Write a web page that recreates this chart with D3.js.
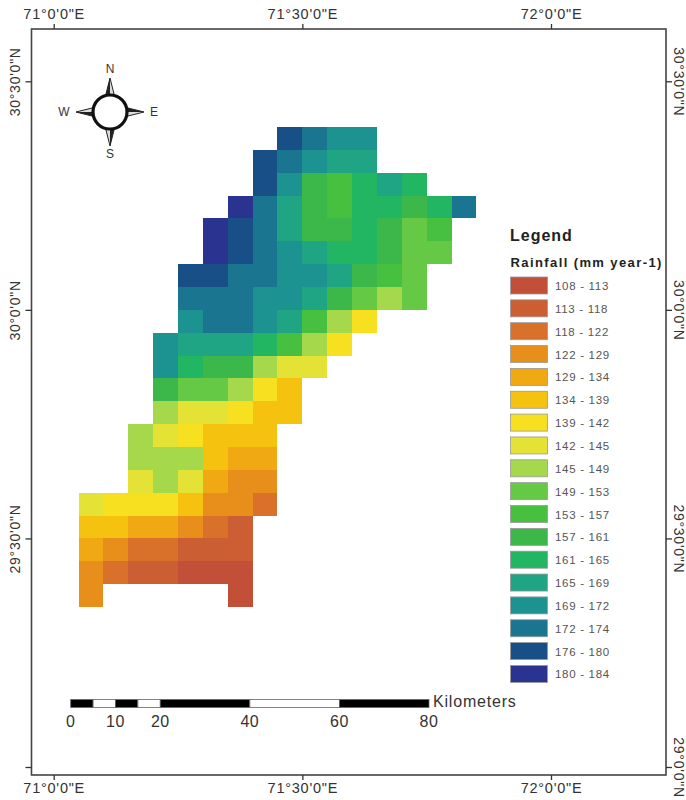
<!DOCTYPE html>
<html>
<head>
<meta charset="utf-8">
<script src="https://cdn.jsdelivr.net/npm/d3@7"></script>
<style>
  html, body { margin: 0; padding: 0; background: #fff; }
  svg { display: block; font-family: "Liberation Sans", Arial, sans-serif; }
</style>
</head>
<body>
<svg id="map" width="686" height="800"></svg>
<script>
// grid is 0.05 degree cells, rows run north to south from this corner
const gridWest = 71.05;
const gridNorth = 30.40;
const gridStep = 0.05;

const _ = null;
const rainfall = [
  [_, _, _, _, _, _, _, _, 178, 173, 170, 170, _, _, _, _],
  [_, _, _, _, _, _, _, 178, 173, 170, 167, 167, _, _, _, _],
  [_, _, _, _, _, _, _, 178, 170, 159, 155, 163, 167, 163, _, _],
  [_, _, _, _, _, _, 182, 173, 167, 159, 155, 163, 163, 159, 163, 173],
  [_, _, _, _, _, 182, 178, 173, 167, 159, 159, 163, 159, 151, 155, _],
  [_, _, _, _, _, 182, 178, 173, 170, 167, 163, 163, 159, 151, 151, _],
  [_, _, _, _, 178, 178, 173, 173, 170, 170, 167, 159, 155, 151, _, _],
  [_, _, _, _, 173, 173, 173, 170, 170, 167, 159, 151, 147, 151, _, _],
  [_, _, _, _, 170, 173, 173, 170, 167, 155, 147, 140, _, _, _, _],
  [_, _, _, 170, 167, 167, 167, 163, 155, 147, 140, _, _, _, _, _],
  [_, _, _, 170, 163, 159, 159, 147, 143, 143, _, _, _, _, _, _],
  [_, _, _, 159, 151, 151, 147, 140, 136, _, _, _, _, _, _, _],
  [_, _, _, 147, 143, 143, 140, 136, 136, _, _, _, _, _, _, _],
  [_, _, 147, 143, 140, 136, 136, 136, _, _, _, _, _, _, _, _],
  [_, _, 147, 147, 147, 136, 131, 131, _, _, _, _, _, _, _, _],
  [_, _, 143, 147, 143, 131, 125, 125, _, _, _, _, _, _, _, _],
  [143, 140, 140, 140, 136, 125, 125, 120, _, _, _, _, _, _, _, _],
  [136, 136, 131, 131, 125, 120, 115, _, _, _, _, _, _, _, _, _],
  [131, 125, 120, 120, 115, 115, 115, _, _, _, _, _, _, _, _, _],
  [125, 120, 115, 115, 110, 110, 110, _, _, _, _, _, _, _, _, _],
  [125, _, _, _, _, _, 110, _, _, _, _, _, _, _, _, _]
];

const classBreaks = [113, 118, 122, 129, 134, 139, 142, 145, 149, 153, 157, 161, 165, 169, 172, 175, 180];
const classLabels = ["108 - 113", "113 - 118", "118 - 122", "122 - 129", "129 - 134", "134 - 139",
  "139 - 142", "142 - 145", "145 - 149", "149 - 153", "153 - 157", "157 - 161",
  "161 - 165", "165 - 169", "169 - 172", "172 - 174", "176 - 180", "180 - 184"];
const classColors = ["#c24f38", "#cb5f33", "#d9712a", "#e88e1b", "#f0a912", "#f5c30f",
  "#f6e01f", "#e3e235", "#a5d84a", "#66c945", "#46c03e", "#3cb84a",
  "#22b562", "#1fa583", "#1c9390", "#1a7590", "#184f87", "#2a3490"];

const lonTicks = [71, 71.5, 72];
const lonLabels = ["71°0'0\"E", "71°30'0\"E", "72°0'0\"E"];
const latTicks = [30.5, 30, 29.5, 29];
const latLabels = ["30°30'0\"N", "30°0'0\"N", "29°30'0\"N", "29°0'0\"N"];
// the left side has the 29 degree tick but no label for it
const latLabelsLeft = ["30°30'0\"N", "30°0'0\"N", "29°30'0\"N", ""];

const scaleBreaks = [0, 5, 10, 15, 20, 40, 60, 80];
const scaleLabels = [0, 10, 20, 40, 60, 80];

const svg = d3.select("#map");

const x = d3.scaleLinear().domain([71, 72]).range([53.7, 551]);
const y = d3.scaleLinear().domain([29, 30.5]).range([767, 81.3]);
const color = d3.scaleThreshold().domain(classBreaks).range(classColors);

// flatten rows into cells
const cells = [];
rainfall.forEach((row, r) => row.forEach((v, c) => {
  if (v !== null) cells.push({ r, c, v });
}));

svg.selectAll(".cell")
  .data(cells)
  .join("rect")
  .attr("class", "cell")
  .attr("x", d => x(gridWest + d.c * gridStep))
  .attr("y", d => y(gridNorth - d.r * gridStep))
  .attr("width", x(71 + gridStep) - x(71))
  .attr("height", y(30) - y(30 + gridStep))
  .attr("fill", d => color(d.v))
  .attr("shape-rendering", "crispEdges");

// frame
const frame = { left: 31.5, right: 666, top: 29, bottom: 775 };
svg.append("rect")
  .attr("x", frame.left)
  .attr("y", frame.top)
  .attr("width", frame.right - frame.left)
  .attr("height", frame.bottom - frame.top)
  .attr("fill", "none")
  .attr("stroke", "#444")
  .attr("stroke-width", 1.6);

// axes on all four sides, side labels get rotated after
function styleAxis(g) {
  g.select(".domain").remove();
  g.selectAll("line").attr("stroke", "#333").attr("stroke-width", 1.3);
  g.selectAll("text")
    .attr("fill", "#333")
    .style("font-size", "14.5px")
    .style("letter-spacing", "0.75px");
}

function rotateLabels(text, dx, angle) {
  text.attr("text-anchor", "middle")
    .attr("x", 0)
    .attr("y", 0)
    .attr("dy", 0)
    .style("font-size", "14px")
    .attr("transform", `translate(${dx},0) rotate(${angle})`);
}

svg.append("g")
  .attr("transform", `translate(0,${frame.top})`)
  .call(d3.axisTop(x).tickValues(lonTicks).tickFormat((d, i) => lonLabels[i]).tickSize(5).tickPadding(5))
  .call(styleAxis);

svg.append("g")
  .attr("transform", `translate(0,${frame.bottom})`)
  .call(d3.axisBottom(x).tickValues(lonTicks).tickFormat((d, i) => lonLabels[i]).tickSize(5).tickPadding(3))
  .call(styleAxis);

svg.append("g")
  .attr("transform", `translate(${frame.left},0)`)
  .call(d3.axisLeft(y).tickValues(latTicks).tickFormat((d, i) => latLabelsLeft[i]).tickSize(6))
  .call(styleAxis)
  .selectAll("text")
  .call(rotateLabels, -11.5, -90);

svg.append("g")
  .attr("transform", `translate(${frame.right},0)`)
  .call(d3.axisRight(y).tickValues(latTicks).tickFormat((d, i) => latLabels[i]).tickSize(6))
  .call(styleAxis)
  .selectAll("text")
  .call(rotateLabels, 7.5, 90);

// north arrow
const compass = svg.append("g").attr("transform", "translate(110,112)");
const dirs = [
  { name: "N", angle: 0, lx: 0, ly: -43 },
  { name: "E", angle: 90, lx: 44, ly: 0 },
  { name: "S", angle: 180, lx: 0, ly: 42 },
  { name: "W", angle: 270, lx: -46, ly: 0 }
];
dirs.forEach(d => {
  const g = compass.append("g").attr("transform", `rotate(${d.angle})`);
  g.append("path").attr("d", "M0,-34L-5,-14L5,-14Z").attr("fill", "#ddd").attr("stroke", "#222").attr("stroke-width", 1);
  g.append("path").attr("d", "M0,-34L-5,-14L0,-14Z").attr("fill", "#222");
  compass.append("text")
    .attr("x", d.lx).attr("y", d.ly)
    .attr("text-anchor", "middle")
    .attr("dominant-baseline", "central")
    .attr("font-size", 12)
    .attr("fill", "#333")
    .text(d.name);
});
compass.append("ellipse")
  .attr("rx", 17).attr("ry", 17)
  .attr("fill", "#fff")
  .attr("stroke", "#111")
  .attr("stroke-width", 3.2);

// legend
svg.append("text")
  .attr("x", 510).attr("y", 241)
  .attr("font-size", 16)
  .attr("font-weight", "bold")
  .attr("letter-spacing", 1)
  .attr("fill", "#222")
  .text("Legend");
svg.append("text")
  .attr("x", 510.5).attr("y", 267)
  .attr("font-size", 13)
  .attr("font-weight", "bold")
  .attr("letter-spacing", 1.4)
  .attr("fill", "#222")
  .text("Rainfall (mm year-1)");

const legendY = d3.scaleBand()
  .domain(classLabels)
  .range([276, 276 + 22.85 * classLabels.length]);

const legend = svg.selectAll(".legend-row")
  .data(classLabels)
  .join("g")
  .attr("class", "legend-row")
  .attr("transform", d => `translate(0,${legendY(d)})`);

legend.append("rect")
  .attr("x", 510.5).attr("y", 1)
  .attr("width", 37).attr("height", 17)
  .attr("fill", (d, i) => classColors[i])
  .attr("stroke", "#999")
  .attr("stroke-width", 0.8);

legend.append("text")
  .attr("x", 555).attr("y", 14)
  .attr("font-size", 11.5)
  .attr("letter-spacing", 0.7)
  .attr("fill", "#555")
  .text(d => d);

// scale bar
const km = d3.scaleLinear().domain([0, 80]).range([70.7, 429]);
const segs = d3.pairs(scaleBreaks);
svg.selectAll(".seg")
  .data(segs)
  .join("rect")
  .attr("class", "seg")
  .attr("x", d => km(d[0]))
  .attr("y", 699.5)
  .attr("width", d => km(d[1]) - km(d[0]))
  .attr("height", 8)
  .attr("fill", (d, i) => i % 2 === 0 ? "#000" : "#fff")
  .attr("stroke", "#666")
  .attr("stroke-width", 0.8);

svg.selectAll(".seg-label")
  .data(scaleLabels)
  .join("text")
  .attr("class", "seg-label")
  .attr("x", d => km(d))
  .attr("y", 727)
  .attr("text-anchor", "middle")
  .attr("font-size", 16)
  .attr("letter-spacing", 0.5)
  .attr("fill", "#333")
  .text(d => d);

svg.append("text")
  .attr("x", 433).attr("y", 707)
  .attr("font-size", 16)
  .attr("letter-spacing", 0.8)
  .attr("fill", "#333")
  .text("Kilometers");
</script>
</body>
</html>
